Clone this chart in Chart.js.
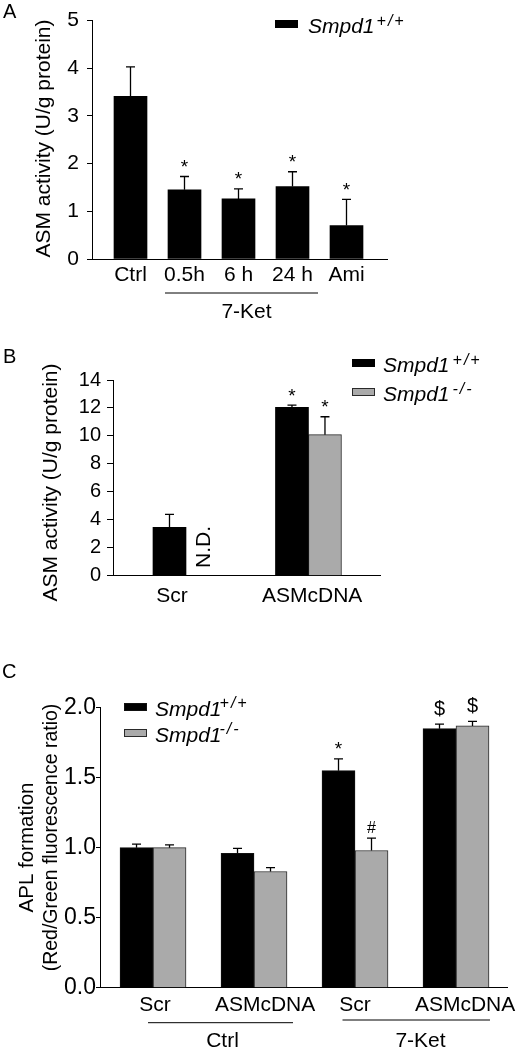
<!DOCTYPE html>
<html><head><meta charset="utf-8">
<script src="https://cdn.jsdelivr.net/npm/chart.js@4.4.1/dist/chart.umd.min.js"></script>
<style>
html,body{margin:0;padding:0;background:#fff;width:517px;height:1048px;overflow:hidden;}
canvas{position:absolute;left:0;display:block;}
</style></head><body>
<canvas id="cA" width="517" height="320" style="top:0px;width:517px;height:320px"></canvas>
<canvas id="cB" width="517" height="290" style="top:330px;width:517px;height:290px"></canvas>
<canvas id="cC" width="517" height="408" style="top:640px;width:517px;height:408px"></canvas>
<script>
// ---------------- data ----------------
const seriesNames = ['Smpd1', 'Smpd1'];
const seriesSup = ['+/+', '-/-'];

// Panel A
const categoriesA = ['Ctrl', '0.5h', '6 h', '24 h', 'Ami'];
const valuesA = [3.41, 1.45, 1.26, 1.52, 0.70];
const errorsA = [0.62, 0.28, 0.21, 0.31, 0.55];
const marksA = ['', '*', '*', '*', '*'];
const groupsA = [{label: '7-Ket', from: 1, to: 3}];
const ticksA = [0, 1, 2, 3, 4, 5];

// Panel B
const categoriesB = ['Scr', 'ASMcDNA'];
const wtB = [3.46, 12.05];
const wtErrB = [0.93, 0.15];
const wtMarksB = ['', '*'];
const koB = [null, 10.09];
const koErrB = [null, 1.28];
const koMarksB = ['N.D.', '*'];
const ticksB = [0, 2, 4, 6, 8, 10, 12, 14];

// Panel C
const categoriesC = ['Scr', 'ASMcDNA', 'Scr', 'ASMcDNA'];
const wtC = [1.00, 0.96, 1.55, 1.85];
const wtErrC = [0.025, 0.035, 0.084, 0.033];
const wtMarksC = ['', '', '*', '$'];
const koC = [1.00, 0.83, 0.98, 1.87];
const koErrC = [0.02, 0.027, 0.088, 0.032];
const koMarksC = ['', '', '#', '$'];
const groupsC = [{label: 'Ctrl', from: 0, to: 1}, {label: '7-Ket', from: 2, to: 3}];
const ticksC = [0, 0.5, 1.0, 1.5, 2.0];

// ---------------- styling ----------------
const FONT = '"Liberation Sans", Arial, Helvetica, sans-serif';
const BLACK = '#000000';
const GREY = '#aaaaaa';
const GREY_BORDER = '#2a2a2a';

const markStyles = {
  '*': {font: '19px ' + FONT, lift: 10.5, gap: 14},
  '#': {font: '16px ' + FONT, lift: 5.6, gap: 11},
  '$': {font: '20px ' + FONT, lift: 7, gap: 16},
  'N.D.': {font: '21px ' + FONT, rotate: true, dx: 2, rise: 28.7}
};

const panelExtras = {
  cA: {
    letter: {text: 'A', x: 3, y: 18},
    titles: [{text: 'ASM activity (U/g protein)', x: 44, y: 138.5, size: 21}],
    legend: {x: 275, w: 23, h: 8, tops: [20], textX: 308, textDy: 13, supDx: 2, supRise: 7},
    groups: [{line: 293, padL: 19.5, padR: 25.5, textDx: 8, textY: 318}],
    groupDefs: groupsA
  },
  cB: {
    letter: {text: 'B', x: 3, y: 33},
    titles: [{text: 'ASM activity (U/g protein)', x: 51, y: 152.5, size: 21}],
    legend: {x: 352, w: 23, h: 8, tops: [29, 58], textX: 383, textDy: 13, supDx: 3, supRise: 7},
    groups: [],
    groupDefs: []
  },
  cC: {
    letter: {text: 'C', x: 2, y: 38},
    titles: [{text: 'APL formation', x: 27, y: 207.5, size: 20.5}, {text: '(Red/Green fluorescence ratio)', x: 52, y: 197.5, size: 19.5}],
    legend: {x: 124, w: 23, h: 8, tops: [63, 89], textX: 155, textDy: 13, supDx: -2, supRise: 8},
    groups: [{line: 382.7, padL: 5, padR: 39, textDx: 19, textY: 407}, {line: 380, padL: 12.5, padR: 34, textDx: 15, textY: 407}],
    groupDefs: groupsC
  }
};

const extrasPlugin = {
  id: 'extras',
  afterDraw(chart) {
    const o = panelExtras[chart.canvas.id];
    if (!o) return;
    const ctx = chart.ctx, xs = chart.scales.x, ys = chart.scales.y;
    ctx.save();
    // error bars and significance marks
    chart.data.datasets.forEach((ds, di) => {
      const meta = chart.getDatasetMeta(di);
      meta.data.forEach((bar, i) => {
        const v = ds.data[i].y;
        const e = ds.errors[i];
        let capY = ys.getPixelForValue(0);
        if (v != null) capY = ys.getPixelForValue(v);
        if (v != null && e != null) {
          const top = ys.getPixelForValue(v);
          capY = ys.getPixelForValue(v + e);
          ctx.strokeStyle = '#000';
          ctx.lineWidth = 1.3;
          ctx.beginPath();
          ctx.moveTo(bar.x, top); ctx.lineTo(bar.x, capY);
          ctx.moveTo(bar.x - 4.5, capY); ctx.lineTo(bar.x + 4.5, capY);
          ctx.stroke();
        }
        const m = ds.marks[i];
        if (!m) return;
        const st = markStyles[m];
        ctx.fillStyle = '#000';
        ctx.font = st.font;
        if (st.rotate) {
          ctx.save();
          ctx.translate(bar.x + st.dx, ys.getPixelForValue(0) - st.rise);
          ctx.rotate(-Math.PI / 2);
          ctx.textAlign = 'center'; ctx.textBaseline = 'middle';
          ctx.fillText(m, 0, 0);
          ctx.restore();
        } else {
          ctx.textAlign = 'center'; ctx.textBaseline = 'alphabetic';
          ctx.fillText(m, bar.x, capY - st.gap + st.lift);
        }
      });
    });
    // panel letter
    ctx.fillStyle = '#000';
    ctx.font = '20px ' + FONT;
    ctx.textAlign = 'left'; ctx.textBaseline = 'alphabetic';
    ctx.fillText(o.letter.text, o.letter.x, o.letter.y);
    // y titles
    o.titles.forEach(t => {
      ctx.save();
      ctx.translate(t.x, t.y);
      ctx.rotate(-Math.PI / 2);
      ctx.font = t.size + 'px ' + FONT;
      ctx.textAlign = 'center'; ctx.textBaseline = 'middle';
      ctx.fillText(t.text, 0, 0);
      ctx.restore();
    });
    // legend
    const L = o.legend;
    chart.data.datasets.forEach((ds, di) => {
      const yTop = L.tops[di];
      ctx.fillStyle = ds.backgroundColor;
      ctx.fillRect(L.x, yTop, L.w, L.h);
      if (ds.borderWidth) {
        ctx.strokeStyle = ds.borderColor; ctx.lineWidth = 1;
        ctx.strokeRect(L.x + 0.5, yTop + 0.5, L.w - 1, L.h - 1);
      }
      ctx.fillStyle = '#000';
      ctx.textAlign = 'left'; ctx.textBaseline = 'alphabetic';
      ctx.font = 'italic 21px ' + FONT;
      const base = yTop + L.textDy;
      ctx.fillText(ds.label, L.textX, base);
      const w = ctx.measureText(ds.label).width;
      ctx.font = 'italic 16px ' + FONT;
      try { ctx.letterSpacing = '2px'; } catch (err) {}
      ctx.fillText(ds.sup, L.textX + w + L.supDx, base - L.supRise);
      try { ctx.letterSpacing = '0px'; } catch (err) {}
    });
    // group underlines
    o.groupDefs.forEach((g, gi) => {
      const s = o.groups[gi];
      const x1 = xs.getPixelForValue(g.from) - s.padL;
      const x2 = xs.getPixelForValue(g.to) + s.padR;
      ctx.strokeStyle = '#000'; ctx.lineWidth = 1;
      ctx.beginPath(); ctx.moveTo(x1, s.line); ctx.lineTo(x2, s.line); ctx.stroke();
      ctx.fillStyle = '#000';
      ctx.font = '21px ' + FONT;
      ctx.textAlign = 'center'; ctx.textBaseline = 'alphabetic';
      const mid = (xs.getPixelForValue(g.from) + xs.getPixelForValue(g.to)) / 2;
      ctx.fillText(g.label, mid + s.textDx, s.textY);
    });
    ctx.restore();
  }
};
Chart.register(extrasPlugin);

function yScale(ticks, max, size, tickLen, pad, width, fmt) {
  return {
    type: 'linear', min: 0, max: max,
    afterBuildTicks: s => { s.ticks = ticks.map(v => ({value: v})); },
    afterFit: s => { s.width = width; },
    grid: {display: true, drawOnChartArea: false, drawTicks: true, tickLength: tickLen, color: '#000', tickColor: '#000', lineWidth: 1},
    border: {display: true, color: '#000', width: 1},
    ticks: {font: {family: FONT, size: size}, color: '#000', padding: pad, callback: fmt}
  };
}
function xScale(cats, min, max, nudges, size, pad, height) {
  return {
    type: 'linear', min: min, max: max, offset: false,
    afterBuildTicks: s => { s.ticks = cats.map((c, i) => ({value: i + nudges[i]})); },
    afterFit: s => { s.height = height; },
    grid: {display: false},
    border: {display: true, color: '#000', width: 1},
    ticks: {font: {family: FONT, size: size}, color: '#000', padding: pad, maxRotation: 0, autoSkip: false,
      callback: (v, i) => cats[i]}
  };
}
function pts(vals) { return vals.map((v, i) => ({x: i, y: v})); }
function ds(name, sup, vals, errs, marks, color, border) {
  return {
    label: name, sup: sup, data: pts(vals), errors: errs, marks: marks,
    backgroundColor: color, borderColor: border || color, borderWidth: border ? 1 : 0,
    barThickness: 33, borderSkipped: 'start'
  };
}
const common = {
  responsive: false, maintainAspectRatio: false, animation: false, events: [],
  plugins: {legend: {display: false}, tooltip: {enabled: false}, title: {display: false}}
};

new Chart(document.getElementById('cA'), {
  type: 'bar',
  data: {datasets: [ds(seriesNames[0], seriesSup[0], valuesA, errorsA, marksA, BLACK)]},
  options: Object.assign({}, common, {
    layout: {padding: {left: 0, top: 16, right: 130, bottom: 21}},
    scales: {
      x: xScale(categoriesA, -0.713, 4.75, [0, 0, 0, 0, 0], 21, -4, 40),
      y: yScale(ticksA, 5, 21, 5, 8, 92, v => String(v))
    }
  })
});

new Chart(document.getElementById('cB'), {
  type: 'bar',
  data: {datasets: [
    ds(seriesNames[0], seriesSup[0], wtB, wtErrB, wtMarksB, BLACK),
    ds(seriesNames[1], seriesSup[1], koB, koErrB, koMarksB, GREY, GREY_BORDER)
  ]},
  options: Object.assign({}, common, {
    layout: {padding: {left: 0, top: 50, right: 137, bottom: 4.3}},
    scales: {
      x: xScale(categoriesB, -0.596, 1.584, [-0.114, 0.03], 21, 0, 40),
      y: yScale(ticksB, 14, 20, 6, 6, 113, v => String(v))
    }
  })
});

new Chart(document.getElementById('cC'), {
  type: 'bar',
  data: {datasets: [
    ds(seriesNames[0], seriesSup[0], wtC, wtErrC, wtMarksC, BLACK, '#111111'),
    ds(seriesNames[1], seriesSup[1], koC, koErrC, koMarksC, GREY, GREY_BORDER)
  ]},
  options: Object.assign({}, common, {
    layout: {padding: {left: 0, top: 67.7, right: 10, bottom: 20.3}},
    scales: {
      x: xScale(categoriesC, -0.525, 3.505, [0.02, 0.11, 0, 0.09], 21, -3, 40),
      y: yScale(ticksC, 2, 23, 4, 0, 100, v => Number(v).toFixed(1))
    }
  })
});
</script>
</body></html>
